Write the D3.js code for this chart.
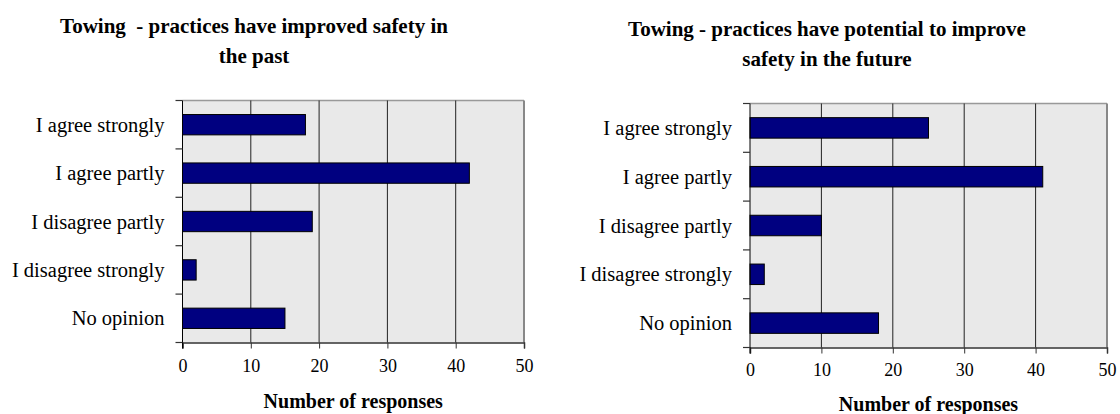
<!DOCTYPE html>
<html>
<head>
<meta charset="utf-8">
<script src="https://cdn.jsdelivr.net/npm/d3@7"></script>
<style>
  html, body { margin: 0; padding: 0; background: #fff; }
  svg { display: block; }
  text { font-family: "Liberation Serif", "Times New Roman", serif; fill: #000; }
</style>
</head>
<body>
<svg id="chart" width="1120" height="414"></svg>
<script>
// survey answers (same categories for both panels)
const categories = [
  "I agree strongly",
  "I agree partly",
  "I disagree partly",
  "I disagree strongly",
  "No opinion",
];
const pastValues = [18, 42, 19, 2, 15];
const futureValues = [25, 41, 10, 2, 18];
const xTicks = [0, 10, 20, 30, 40, 50];
const pastTitle = ["Towing  - practices have improved safety in", "the past"];
const futureTitle = ["Towing - practices have potential to improve", "safety in the future"];
const axisTitle = "Number of responses";

const svg = d3.select("#chart");

const panels = [
  { values: pastValues, title: pastTitle, box: { x0: 182.5, x1: 524, y0: 100.5, y1: 342.5 }, titleY: 33, titleX: 254, axisTitleY: 408, tickY: 372 },
  { values: futureValues, title: futureTitle, box: { x0: 750, x1: 1107, y0: 103.5, y1: 347.5 }, titleY: 36, titleX: 827, axisTitleY: 411, tickY: 376 },
];

panels.forEach((p) => drawPanel(p));

function drawPanel(p) {
  const b = p.box;
  const x = d3.scaleLinear().domain([0, 50]).range([b.x0, b.x1]);
  const y = d3.scaleBand().domain(categories).range([b.y0, b.y1]).paddingInner(0.58).paddingOuter(0.29);
  const step = y.step();

  const g = svg.append("g");

  // plot background
  g.append("rect")
    .attr("x", b.x0).attr("y", b.y0)
    .attr("width", b.x1 - b.x0).attr("height", b.y1 - b.y0)
    .attr("fill", "#e9e9e9");

  // top and right frame (grey)
  g.append("line").attr("x1", b.x0).attr("x2", b.x1).attr("y1", b.y0).attr("y2", b.y0)
    .attr("stroke", "#999").attr("stroke-width", 1.5);
  g.append("line").attr("x1", b.x1).attr("x2", b.x1).attr("y1", b.y0).attr("y2", b.y1)
    .attr("stroke", "#888").attr("stroke-width", 2);

  // vertical gridlines
  g.append("g")
    .selectAll("line")
    .data(xTicks.filter((t) => t > 0 && t < 50))
    .join("line")
    .attr("x1", (d) => x(d)).attr("x2", (d) => x(d))
    .attr("y1", b.y0).attr("y2", b.y1)
    .attr("stroke", "#222").attr("stroke-width", 1);

  // bars
  g.append("g")
    .selectAll("rect")
    .data(categories.map((c, i) => ({ c, v: p.values[i] })))
    .join("rect")
    .attr("x", x(0))
    .attr("y", (d) => y(d.c))
    .attr("width", (d) => x(d.v) - x(0))
    .attr("height", y.bandwidth())
    .attr("fill", "#000080")
    .attr("stroke", "#000")
    .attr("stroke-width", 1);

  // x axis
  const xAxis = d3.axisBottom(x).tickValues(xTicks).tickSize(6).tickPadding(8);
  const xg = g.append("g").attr("transform", `translate(0,${b.y1})`).call(xAxis)
    .attr("font-family", null).attr("font-size", null);
  xg.select(".domain").attr("stroke", "#333").attr("stroke-width", 1.5);
  xg.selectAll(".tick line").attr("stroke", "#333");
  xg.selectAll(".tick text")
    .attr("y", null).attr("dy", null)
    .attr("transform", `translate(0,${p.tickY - b.y1})`)
    .style("font-family", '"Liberation Serif", serif')
    .style("font-size", "18px");

  // y axis: ticks on band boundaries, labels centred in bands
  const yg = g.append("g");
  yg.append("line").attr("x1", b.x0).attr("x2", b.x0).attr("y1", b.y0).attr("y2", b.y1 + 6)
    .attr("stroke", "#000").attr("stroke-width", 1);
  yg.selectAll("line.tk")
    .data(d3.range(categories.length + 1))
    .join("line")
    .attr("class", "tk")
    .attr("x1", b.x0 - 7).attr("x2", b.x0)
    .attr("y1", (i) => b.y0 + i * step).attr("y2", (i) => b.y0 + i * step)
    .attr("stroke", "#333").attr("stroke-width", 1.2);
  yg.selectAll("text")
    .data(categories)
    .join("text")
    .attr("x", b.x0 - 18)
    .attr("y", (d) => y(d) + y.bandwidth() / 2)
    .attr("dy", "0.35em")
    .attr("text-anchor", "end")
    .style("font-size", "20.5px")
    .text((d) => d);

  // title
  svg.append("text")
    .attr("x", p.titleX).attr("y", p.titleY)
    .attr("text-anchor", "middle")
    .style("font-weight", "bold").style("font-size", "21px").style("white-space", "pre")
    .selectAll("tspan")
    .data(p.title)
    .join("tspan")
    .attr("x", p.titleX)
    .attr("dy", (d, i) => (i === 0 ? 0 : 30))
    .text((d) => d);

  // axis title
  svg.append("text")
    .attr("x", (b.x0 + b.x1) / 2).attr("y", p.axisTitleY)
    .attr("text-anchor", "middle")
    .style("font-weight", "bold").style("font-size", "20px")
    .text(axisTitle);
}
</script>
</body>
</html>
